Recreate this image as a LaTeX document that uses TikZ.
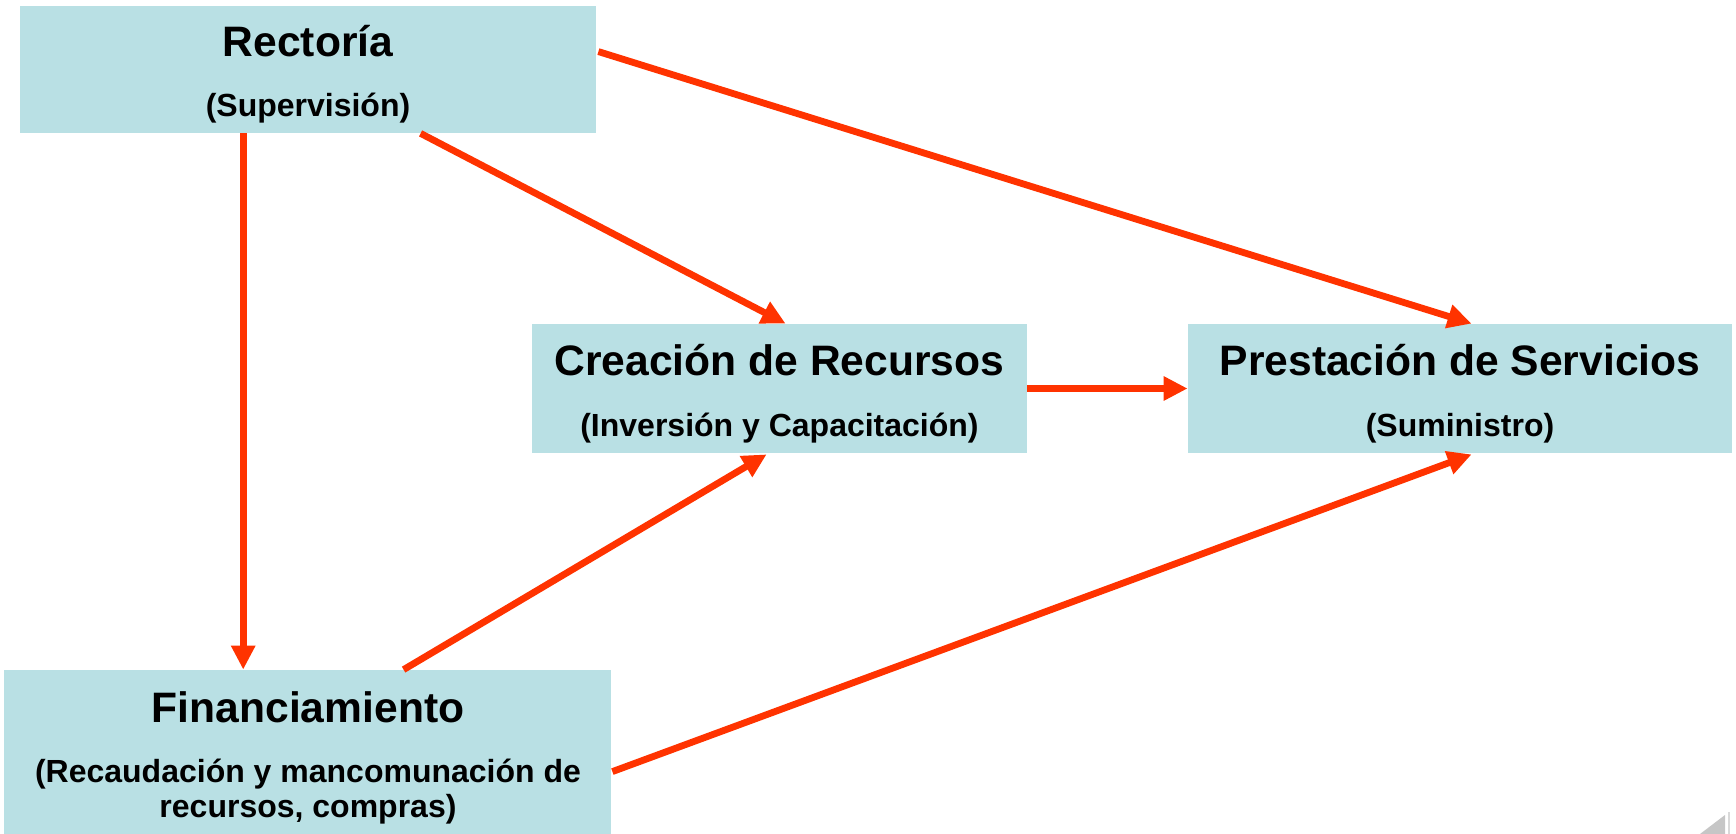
\documentclass[tikz,border=0pt]{standalone}
\usepackage{fontspec}
\setmainfont{Liberation Sans}
\usetikzlibrary{arrows.meta,calc}
\definecolor{boxfill}{RGB}{185,224,228}
\definecolor{arrowred}{RGB}{255,51,0}
\tikzset{
  box/.style={rectangle, fill=boxfill, draw=none, inner sep=0pt},
  ttl/.style={anchor=base, inner sep=0pt, font=\fontsize{21.3pt}{24pt}\selectfont\bfseries},
  sub/.style={anchor=base, inner sep=0pt, font=\fontsize{16pt}{18pt}\selectfont\bfseries},
  conn/.style={draw=arrowred, line width=3.4pt, -{Triangle[length=12pt,width=11.5pt]}},
}
\begin{document}
\begin{tikzpicture}[x=0.5pt,y=-0.5pt]
\useasboundingbox (0,0) rectangle (1736,834);
% boxes
\node[box, minimum width=288pt, minimum height=63.5pt] (R) at (308,69.5) {};
\node[box, minimum width=247.5pt, minimum height=64.5pt] (C) at (779.5,388.5) {};
\node[box, minimum width=272pt, minimum height=64.5pt] (P) at (1460,388.5) {};
\node[box, minimum width=303.5pt, minimum height=82pt] (F) at (307.5,752) {};
% texts
\node[ttl] (Rt) at (308,57) {Rectoría};
\node[sub] (Rs) at (308,117) {(Supervisión)};
\node[ttl] (Ct) at (779.5,376) {Creación de Recursos};
\node[sub] (Cs) at (779.5,437) {(Inversión y Capacitación)};
\node[ttl] (Pt) at (1460,376) {Prestación de Servicios};
\node[sub] (Ps) at (1460,437) {(Suministro)};
\node[ttl] (Ft) at (308,722) {Financiamiento};
\node[sub] (Fs1) at (308,782) {(Recaudación y mancomunación de};
\node[sub] (Fs2) at (308,817) {recursos, compras)};
% connectors
\draw[conn] ($(R.south west)+(223.6,0)$) -- ($(F.north west)+(239.6,0)$);
\draw[conn] ($(R.south west)+(401,0)$) -- ($(C.north west)+(254,0)$);
\draw[conn] ($(R.north east)+(2,46)$) -- ($(P.north west)+(284,0)$);
\draw[conn] (C.east) -- (P.west);
\draw[conn] ($(F.north west)+(400,0)$) -- ($(C.south west)+(235,1)$);
\draw[conn] ($(F.north east)+(1,102)$) -- ($(P.south west)+(284,1)$);
% page corner
\fill[gray!45] (1700,834) -- (1725,815) -- (1725,834) -- cycle;
\draw[gray!30, line width=0.8pt] (1729,812) -- (1729,834);
\end{tikzpicture}
\end{document}
